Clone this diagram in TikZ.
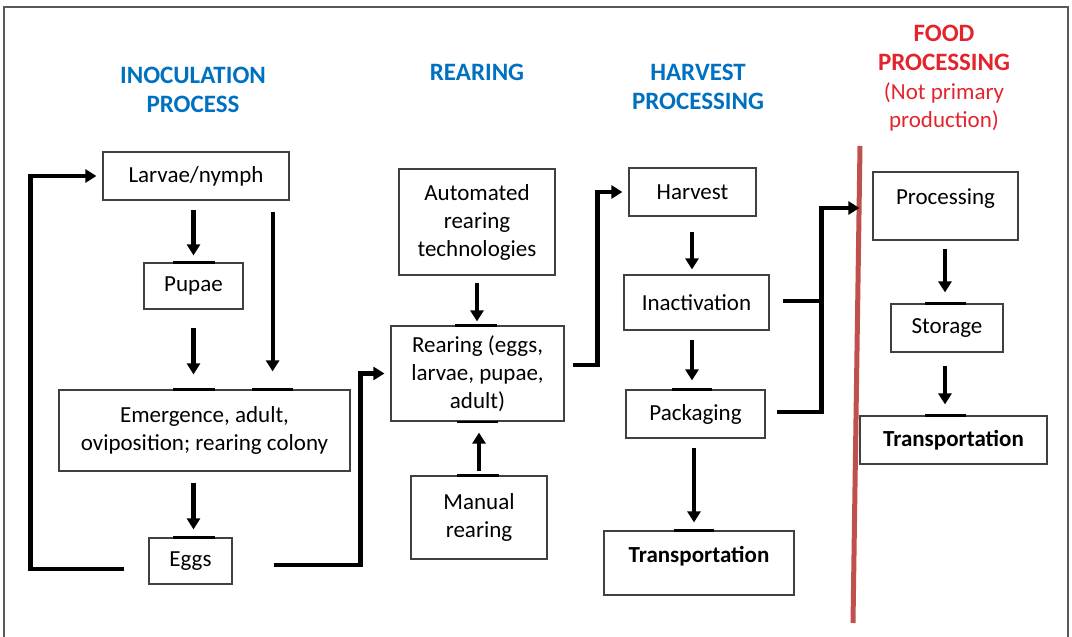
\documentclass[tikz,border=0pt]{standalone}
\usepackage{fontspec}
\setmainfont{Carlito}
\usetikzlibrary{arrows.meta}
\definecolor{headblue}{RGB}{0,112,192}
\definecolor{headred}{RGB}{228,36,44}
\definecolor{divider}{RGB}{192,80,77}
\begin{document}
\begin{tikzpicture}[x=1pt,y=-1pt,
  box/.style={draw=black!75, line width=1.2pt, fill=white, inner sep=2pt,
    align=center, font=\fontsize{23}{28}\selectfont},
  conn/.style={line width=4.2pt, line join=miter},
  arr/.style={conn, -{Triangle[width=13pt,length=11pt]}},
  heading/.style={font=\bfseries\fontsize{25}{29}\selectfont, text=headblue, align=center},
  tick/.style={line width=2.2pt, black},
  frame/.style={draw=black!65, line width=1.2pt}
]
\useasboundingbox (0,0) rectangle (1072,637);

% page frame (open at the bottom)
\draw[frame] (4,637) -- (4,7) -- (1068,7) -- (1068,637);

% column headings
\node[heading] (hInoc) at (193,89.5) {INOCULATION\\PROCESS};
\node[heading] (hRear) at (477,72) {REARING};
\node[heading] (hHarv) at (698,86.5) {HARVEST\\PROCESSING};
\node[heading, text=headred] (hFood) at (944,47.5) {FOOD\\PROCESSING};
\node[align=center, text=headred, font=\fontsize{23}{28}\selectfont] (hNote) at (944,107) {(Not primary\\production)};

% boundary of primary production
\draw[line width=5pt, divider] (860,146) -- (853,623);

% inoculation process
\node[box, minimum width=186pt, minimum height=48pt] (larvae) at (196,176) {Larvae/nymph};
\node[box, minimum width=99pt, minimum height=46pt] (pupae) at (193.5,286) {Pupae};
\node[box, minimum width=291pt, minimum height=81pt] (emerg) at (204.5,430.5) {Emergence, adult,\\oviposition; rearing colony};
\node[box, minimum width=83pt, minimum height=46pt] (eggs) at (190.5,561) {Eggs};

% rearing
\node[box, minimum width=156pt, minimum height=106pt] (auto) at (477,222) {Automated\\rearing\\technologies};
\node[box, minimum width=173pt, minimum height=95pt] (rear) at (477.5,373.5) {Rearing (eggs,\\larvae, pupae,\\adult)};
\node[box, minimum width=136pt, minimum height=83pt] (manual) at (479,517.5) {Manual\\rearing};

% harvest processing
\node[box, minimum width=127pt, minimum height=48pt] (harv) at (692.5,192) {Harvest};
\node[box, minimum width=145pt, minimum height=55pt] (inact) at (696.5,302.5) {Inactivation};
\node[box, minimum width=139pt, minimum height=48pt] (pack) at (695.5,414) {Packaging};
\node[box, minimum width=190pt, minimum height=64pt, text height=15pt, text depth=16.2pt,
  font=\bfseries\fontsize{23}{28}\selectfont] (transA) at (699,563) {Transportation};

% food processing
\node[box, minimum width=145pt, minimum height=68pt, text height=15pt, text depth=18.2pt] (proc) at (945.5,206) {Processing};
\node[box, minimum width=112pt, minimum height=48pt] (stor) at (947,328) {Storage};
\node[box, minimum width=187pt, minimum height=48pt,
  font=\bfseries\fontsize{23}{28}\selectfont] (transB) at (953.5,440) {Transportation};

% darker edge segments where the arrows meet the boxes
\draw[tick] ([xshift=-20.5pt]pupae.north) -- ([xshift=21.5pt]pupae.north);
\draw[tick] ([xshift=-31.5pt]emerg.north) -- ([xshift=10.5pt]emerg.north);
\draw[tick] ([xshift=47.5pt]emerg.north) -- ([xshift=88.5pt]emerg.north);
\draw[tick] ([xshift=-17.5pt]eggs.north) -- ([xshift=24.5pt]eggs.north);
\draw[tick] ([xshift=-22.5pt]rear.north) -- ([xshift=19.5pt]rear.north);
\draw[tick] ([xshift=-20.5pt]rear.south) -- ([xshift=20.5pt]rear.south);
\draw[tick] ([xshift=-22pt]manual.north) -- ([xshift=20pt]manual.north);
\draw[tick] ([xshift=-23.5pt]pack.north) -- ([xshift=16.5pt]pack.north);
\draw[tick] ([xshift=-25pt]transA.north) -- ([xshift=15pt]transA.north);
\draw[tick] ([xshift=-22pt]stor.north) -- ([xshift=19pt]stor.north);
\draw[tick] ([xshift=-28.5pt]transB.north) -- ([xshift=12.5pt]transB.north);

% inoculation connectors
\draw[arr, shorten <=9pt, shorten >=7pt] (larvae.south -| pupae.north) -- (pupae.north);
\draw[arr, shorten <=11pt, shorten >=18pt] ([xshift=-17pt]larvae.south east) -- ([xshift=-17pt]larvae.south east |- emerg.north);
\draw[arr, shorten <=18pt, shorten >=15pt] (pupae.south) -- (pupae.south |- emerg.north);
\draw[arr, shorten <=11pt, shorten >=8pt] (emerg.south -| pupae.south) -- (pupae.south |- eggs.north);
\draw[arr] ([xshift=-24pt,yshift=-8pt]eggs.west) -| ([xshift=-72pt]larvae.west) -- ([xshift=-6pt]larvae.west);
\draw[arr] ([xshift=41pt,yshift=-4pt]eggs.east) -| ([xshift=-30pt]rear.west) -- ([xshift=-6pt]rear.west);

% rearing connectors
\draw[arr, shorten <=7pt, shorten >=4pt] (auto.south) -- (auto.south |- rear.north);
\draw[arr, shorten <=4pt, shorten >=11pt] (manual.north) -- (manual.north |- rear.south);
\draw[arr] ([xshift=8pt,yshift=8.5pt]rear.east) -| ([xshift=-31pt]harv.west) -- ([xshift=-6pt]harv.west);

% harvest connectors
\draw[arr, shorten <=15pt, shorten >=5pt] (harv.south -| 692,0) -- (inact.north -| 692,0);
\draw[arr, shorten <=9pt, shorten >=9pt] (inact.south -| 692,0) -- (pack.north -| 692,0);
\draw[arr, shorten <=9pt, shorten >=8pt] (pack.south -| 694,0) -- (transA.north -| 694,0);

% into food processing
\coordinate (bus) at ([xshift=-51pt,yshift=-2pt]proc.west);
\draw[conn] ([xshift=13pt,yshift=1.5pt]inact.east) -- ([yshift=1.5pt]inact.east -| bus);
\draw[arr] ([xshift=11pt,yshift=2pt]pack.east) -| (bus) -- ([xshift=-13pt,yshift=-2pt]proc.west);

% food processing connectors
\draw[arr, shorten <=8pt, shorten >=11pt] (proc.south -| 945,0) -- (stor.north -| 945,0);
\draw[arr, shorten <=13pt, shorten >=11pt] (stor.south -| 945,0) -- (transB.north -| 945,0);
\end{tikzpicture}
\end{document}
